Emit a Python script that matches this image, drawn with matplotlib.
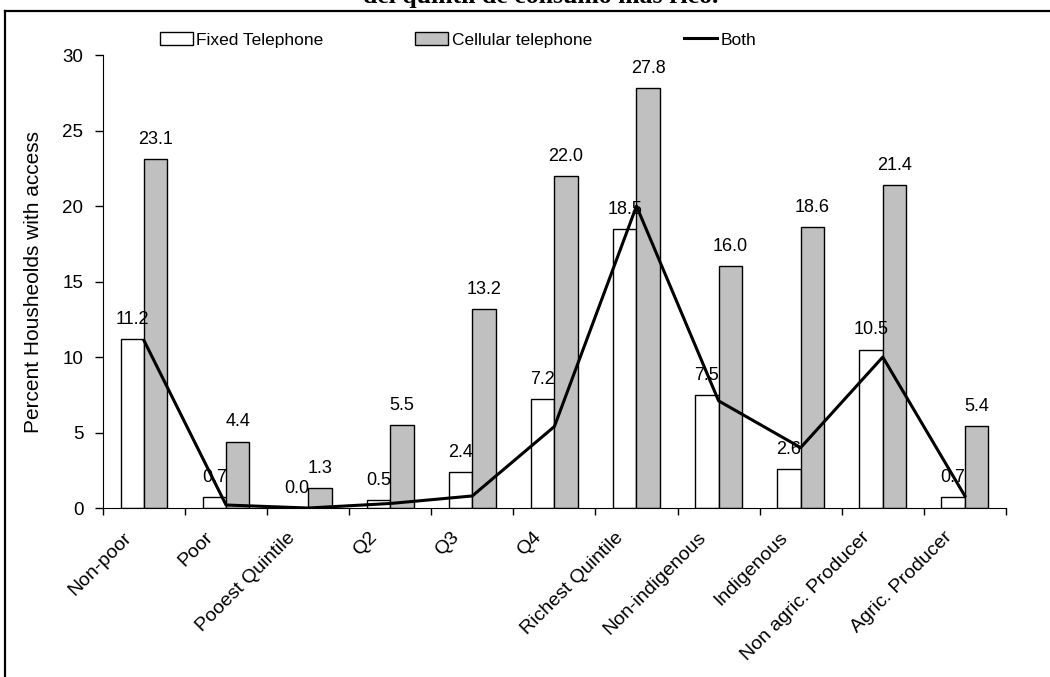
import numpy as np
import matplotlib
matplotlib.use('Agg')
import matplotlib.pyplot as plt
from matplotlib.lines import Line2D

plt.rcParams['font.family'] = ['Liberation Sans', 'DejaVu Sans']

# data
categories = ['Non-poor', 'Poor', 'Pooest Quintile', 'Q2', 'Q3', 'Q4',
              'Richest Quintile', 'Non-indigenous', 'Indigenous',
              'Non agric. Producer', 'Agric. Producer']
fixed = [11.2, 0.7, 0.0, 0.5, 2.4, 7.2, 18.5, 7.5, 2.6, 10.5, 0.7]
cellular = [23.1, 4.4, 1.3, 5.5, 13.2, 22.0, 27.8, 16.0, 18.6, 21.4, 5.4]
both = [11.1, 0.2, 0.0, 0.3, 0.8, 5.4, 20.0, 7.1, 4.0, 10.0, 0.8]

x = np.arange(len(categories))
w = 0.285

fig = plt.figure(figsize=(10.5, 6.77), dpi=100)
ax = fig.add_axes([0.098, 0.2496, 0.86, 0.669])

b1 = ax.bar(x - w / 2, fixed, w, color='white', edgecolor='black', linewidth=1, label='Fixed Telephone')
b2 = ax.bar(x + w / 2, cellular, w, color='#c0c0c0', edgecolor='black', linewidth=1, label='Cellular telephone')

# value labels
for xi, v in zip(x - w / 2, fixed):
    ax.annotate(f'{v:.1f}', (xi, v), xytext=(0, 8), textcoords='offset points',
                ha='center', va='bottom', fontsize=13)
for xi, v in zip(x + w / 2, cellular):
    ax.annotate(f'{v:.1f}', (xi, v), xytext=(0, 8), textcoords='offset points',
                ha='center', va='bottom', fontsize=13)

ln, = ax.plot(x, both, color='black', linewidth=2.2, label='Both', zorder=5)

ax.set_xlim(-0.5, len(categories) - 0.5)
ax.set_ylim(0, 30)
ax.set_yticks(range(0, 31, 5))
# tick marks sit between groups, the names hang a little left of each group
ax.set_xticks(np.arange(-0.5, len(categories)), minor=False)
ax.set_xticklabels([])
ax.set_xticks(x - 0.26, minor=True)
ax.set_xticklabels(categories, minor=True, rotation=45, ha='right',
                   rotation_mode='anchor', fontsize=14)
ax.tick_params(axis='x', which='minor', length=0, pad=15)
ax.tick_params(axis='x', which='major', direction='out', length=5, width=1)
ax.tick_params(axis='y', direction='out', length=6, width=1, labelsize=13.5, pad=8)
ax.set_ylabel('Percent Housheolds with access', fontsize=15, labelpad=14)
for s in ['top', 'right']:
    ax.spines[s].set_visible(False)

fig.legend(handles=[b1, b2, ln], loc='center left', bbox_to_anchor=(0.152, 0.941),
           ncol=3, frameon=False, fontsize=12.5, handlelength=1.9, handleheight=0.7,
           handletextpad=0.2, columnspacing=5.3, borderpad=0, borderaxespad=0)

# outer frame and clipped heading
fig.add_artist(Line2D([5 / 1050, 5 / 1050], [0, 1 - 10.5 / 677], color='black',
                      linewidth=1.6, transform=fig.transFigure))
fig.add_artist(Line2D([5 / 1050, 1], [1 - 10.5 / 677, 1 - 10.5 / 677], color='black',
                      linewidth=1.6, transform=fig.transFigure))
fig.text(0.515, 1 - 3 / 677, 'del quintil de consumo más rico.', ha='center', va='baseline',
         fontsize=18.5, fontweight='bold', family='Liberation Serif')

fig.savefig('out.png', dpi=100)
